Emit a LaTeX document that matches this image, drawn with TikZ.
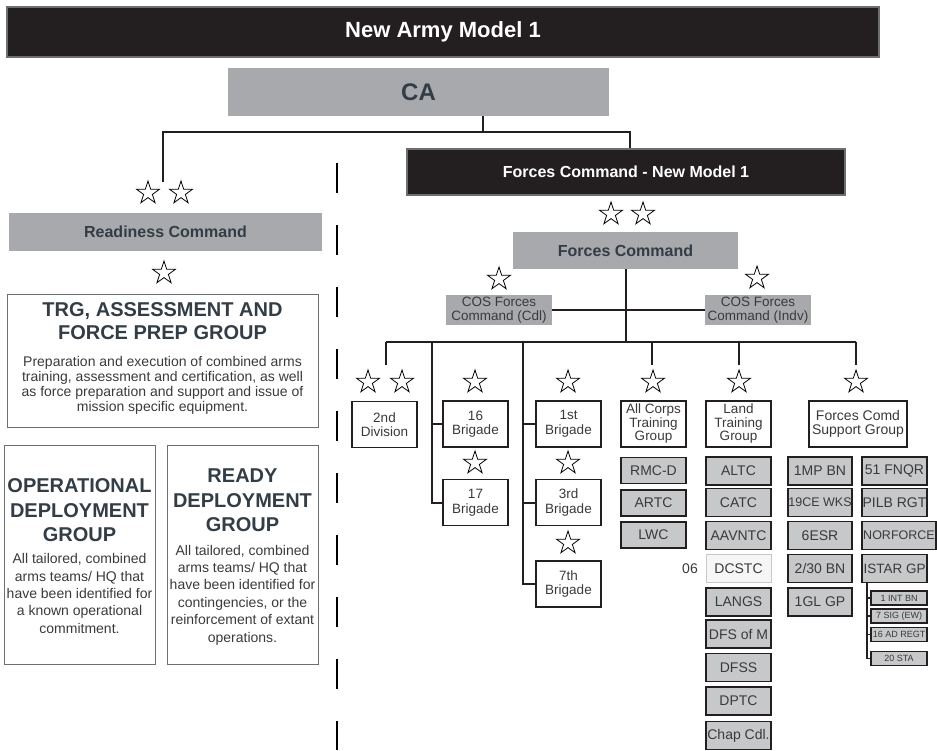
\documentclass[tikz,border=0pt]{standalone}
\usepackage{fontspec}
\setmainfont{Liberation Sans}
\usetikzlibrary{calc, shapes.geometric}
\definecolor{barblack}{HTML}{231F20}
\definecolor{bargray}{HTML}{6D6E71}
\definecolor{cmdgray}{HTML}{A7A9AC}
\definecolor{unitgray}{HTML}{C7C8CA}
\definecolor{hdrtext}{HTML}{333D45}
\definecolor{bodytext}{HTML}{3A3A3A}
\definecolor{paleline}{HTML}{C8C8C8}
\definecolor{palefill}{HTML}{F6F6F6}

\begin{document}
\begin{tikzpicture}[x=1pt,y=-1pt,
  link/.style={draw=barblack,line width=2pt},
  titlebar/.style={draw=bargray,line width=2pt,fill=barblack,text=white,inner sep=0pt},
  cmdbox/.style={fill=cmdgray,text=hdrtext,inner sep=0pt},
  cosbox/.style={fill=cmdgray,text=bodytext,inner sep=0pt,align=center,
    font=\fontsize{13.5}{14}\selectfont,minimum width=106pt,minimum height=30pt},
  infobox/.style={draw=bargray,line width=1pt},
  infohead/.style={text=hdrtext,align=center,inner sep=0pt},
  infotext/.style={text=bodytext,align=center,inner sep=0pt},
  unitbox/.style={draw=barblack,line width=1.8pt,fill=white,text=bodytext,align=center,
    inner sep=0pt,minimum width=65pt,minimum height=46pt,font=\fontsize{13.5}{14.5}\selectfont},
  subbox/.style={draw=barblack,line width=1.8pt,fill=unitgray,text=bodytext,inner sep=0pt,
    minimum width=65pt,minimum height=28pt,font=\fontsize{14}{16}\selectfont},
  tinybox/.style={draw=barblack,line width=1.3pt,fill=unitgray,text=bodytext,inner sep=0pt,
    minimum width=56pt,minimum height=14pt,font=\fontsize{9}{10}\selectfont},
  rankstar/.style={star,star points=5,star point ratio=2.6,draw,line width=0.8pt,
    minimum size=24pt,inner sep=0pt}]
\useasboundingbox (0,0) rectangle (937,750);
% Title and top level
\node[titlebar,minimum width=872pt,minimum height=50pt,font=\fontsize{22}{26}\selectfont\bfseries]
  (title) at (443,32) {New Army Model 1};
\node[cmdbox,minimum width=381pt,minimum height=48pt,font=\fontsize{24}{28}\selectfont\bfseries]
  (ca) at (418.5,92) {CA};
\node[titlebar,minimum width=438pt,minimum height=46pt,font=\fontsize{16}{19}\selectfont\bfseries]
  (fcnm) at (626,172) {Forces Command - New Model 1};
% Branch below CA
\coordinate (cajoin) at (483,132);
\coordinate (rdjoin) at (163,132);
\coordinate (fcjoin) at (630,132);
\coordinate (rdtop) at (163,182);
\draw[link] (ca.south -| cajoin) -- (cajoin);
\draw[link] (rdtop) -- (rdjoin) -- (fcjoin) -- (fcjoin |- fcnm.north);
% Divider
\draw[line width=2pt,dash pattern=on 30pt off 32pt] (337,163) -- (337,750);
% Readiness side
\node[cmdbox,minimum width=313pt,minimum height=38pt,font=\fontsize{16}{19}\selectfont\bfseries]
  (readiness) at (165.5,232) {Readiness Command};
\node[infobox,minimum width=311pt,minimum height=133pt] (trg) at (162.5,360.5) {};
\node[infohead,font=\fontsize{20}{23}\selectfont\bfseries] (trghead) at (162.5,321.4)
  {TRG, ASSESSMENT AND\\FORCE PREP GROUP};
\node[infotext,font=\fontsize{14}{15}\selectfont] (trgtext) at (162.5,385)
  {Preparation and execution of combined arms\\training, assessment and certification, as well\\as force preparation and support and issue of\\mission specific equipment.};
\node[infobox,minimum width=151pt,minimum height=219pt] (opdg) at (79.5,554.5) {};
\node[infohead,font=\fontsize{20}{24.5}\selectfont\bfseries] (opdghead) at (79.5,510.4)
  {OPERATIONAL\\DEPLOYMENT\\GROUP};
\node[infotext,font=\fontsize{14}{17.3}\selectfont] (opdgtext) at (79.5,593.4)
  {All tailored, combined\\arms teams/ HQ that\\have been identified for\\a known operational\\commitment.};
\node[infobox,minimum width=151pt,minimum height=219pt] (rddg) at (242.5,554.5) {};
\node[infohead,font=\fontsize{20}{24.5}\selectfont\bfseries] (rddghead) at (242.5,500.4)
  {READY\\DEPLOYMENT\\GROUP};
\node[infotext,font=\fontsize{14}{17.4}\selectfont] (rddgtext) at (242.5,595)
  {All tailored, combined\\arms teams/ HQ that\\have been identified for\\contingencies, or the\\reinforcement of extant\\operations.};
% Forces Command
\node[cmdbox,minimum width=225pt,minimum height=37pt,font=\fontsize{16}{19}\selectfont\bfseries]
  (fc) at (625.5,250.5) {Forces Command};
\node[cosbox] (coscdl) at (499,310) {COS Forces\\Command (Cdl)};
\node[cosbox] (cosindv) at (758,310) {COS Forces\\Command (Indv)};
\coordinate (bus) at (625.5,342);
\coordinate (busl) at (386,342);
\coordinate (busr) at (856,342);
\draw[link] (fc.south) -- (bus);
\draw[link] (coscdl.east) -- (cosindv.west);
\draw[link] (busl) -- (busr);
% Drops to the stars
\foreach \n/\x in {div/386, acg/652, ltg/739, fcsg/856} {
  \coordinate (drop\n) at (\x,365);
  \draw[link] (drop\n |- bus) -- (drop\n);
}
% Units
\node[unitbox] (div2) at (384.5,424.5) {2nd\\Division};
\node[unitbox] (b16) at (475.5,424) {16\\Brigade};
\node[unitbox] (b17) at (475.5,502.5) {17\\Brigade};
\node[unitbox] (b1) at (568.5,424) {1st\\Brigade};
\node[unitbox] (b3) at (568.5,502.5) {3rd\\Brigade};
\node[unitbox] (b7) at (568.5,584) {7th\\Brigade};
\node[unitbox,font=\fontsize{13.5}{13.5}\selectfont] (acg) at (653.5,424) {All Corps\\Training\\Group};
\node[unitbox,font=\fontsize{13.5}{13.5}\selectfont] (ltg) at (738.5,424) {Land\\Training\\Group};
\node[unitbox,minimum width=98pt,font=\fontsize{14}{14}\selectfont] (fcsg) at (858,424) {Forces Comd\\Support Group};
% Brigade lines
\coordinate (brga) at (432,342);
\coordinate (brgb) at (523,342);
\draw[link] (brga) |- (b17.west);
\draw[link] (b16.west) -- (b16.west -| brga);
\draw[link] (brgb) |- (b7.west);
\draw[link] (b1.west) -- (b1.west -| brgb);
\draw[link] (b3.west) -- (b3.west -| brgb);
% Sub units
\foreach \n/\y/\t in {rmcd/470.5/RMC-D, artc/503/ARTC, lwc/535/LWC}
  \node[subbox,minimum height=26pt] (\n) at (653.5,\y) {\t};
\foreach \n/\y/\t in {altc/471/ALTC, catc/502.5/CATC, aavntc/535.5/AAVNTC, langs/602/LANGS,
    dfsm/634/DFS of M, dfss/667.5/DFSS, dptc/701/DPTC, chap/735.5/Chap Cdl.}
  \node[subbox] (\n) at (738.5,\y) {\t};
\node[subbox,draw=paleline,line width=0.8pt,fill=palefill] (dcstc) at (738.5,568.5) {DCSTC};
\node[text=bodytext,font=\fontsize{14}{16}\selectfont,inner sep=0pt,anchor=east] (code06) at (698,569) {06};
\foreach \n/\y/\t in {mp1/471/1MP BN, esr6/535.5/6ESR, gl1/602/1GL GP}
  \node[subbox,minimum width=64pt] (\n) at (820,\y) {\t};
\node[subbox,minimum width=64pt,font=\fontsize{12.5}{14}\selectfont] (ce19) at (820,502.5) {19CE WKS};
\node[subbox,minimum width=64pt] (bn230) at (820,568.5) {2/30 BN};
\foreach \n/\y/\t in {fnqr/471/51 FNQR, pilb/502.5/PILB RGT}
  \node[subbox] (\n) at (894.5,\y) {\t};
\node[subbox,minimum width=74pt,font=\fontsize{12.5}{14}\selectfont] (norforce) at (899,535.5) {NORFORCE};
\node[subbox,font=\fontsize{13.5}{14}\selectfont] (istar) at (894.5,568.5) {ISTAR GP};
% ISTAR group
\foreach \n/\y/\t in {int1/598/1 INT BN, sig7/616/7 SIG (EW), ad16/634.5/16 AD REGT, sta20/658.5/20 STA}
  \node[tinybox] (\n) at (899,\y) {\t};
\coordinate (istarstem) at (867,600);
\draw[link,line width=1.5pt] (istar.south -| istarstem) |- (sta20.west);
\foreach \n in {int1, sig7, ad16}
  \draw[link,line width=1.5pt] (\n.west) -- (\n.west -| istarstem);
% Stars
\foreach \n/\x/\y in {a/148/193, b/181/193, c/164/273, d/611/214, e/643/214,
    f/499/279, g/757/278, h/368/382, i/402/382, j/475/382, k/475/463,
    l/568/382, m/568/463, n/568/543, o/653/382, p/739/382, q/856/382}
  \node[rankstar] (star\n) at (\x,\y) {};
\end{tikzpicture}
\end{document}
